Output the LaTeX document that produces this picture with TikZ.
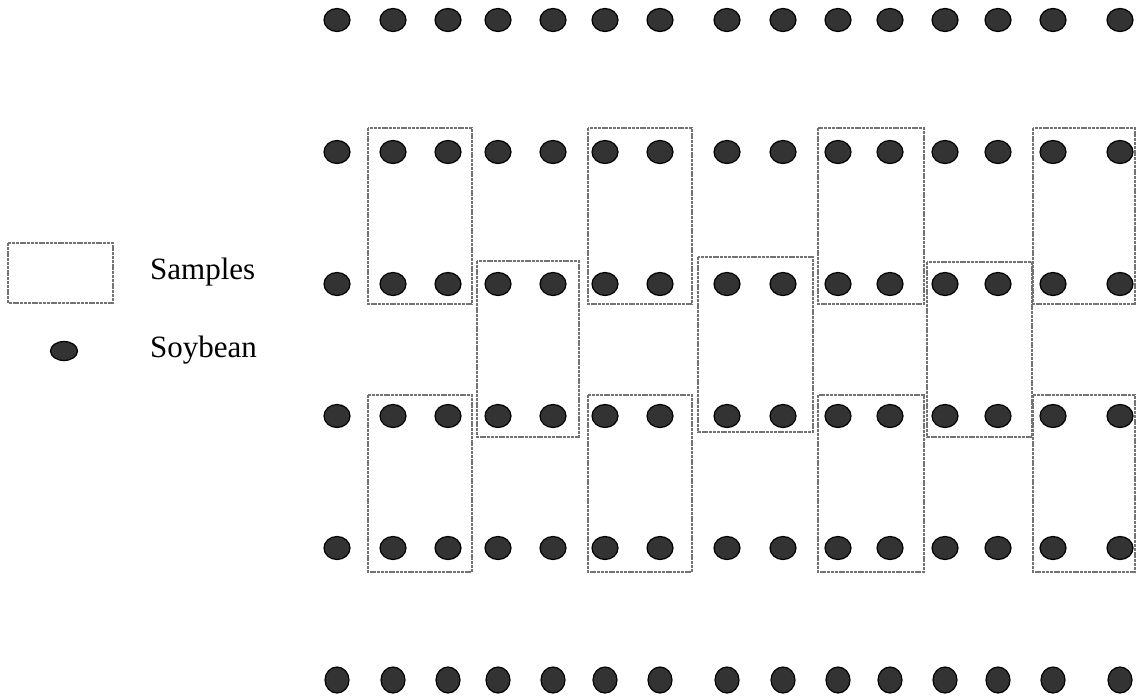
\documentclass[tikz,border=0pt]{standalone}
\usepackage{fontspec}
\setmainfont{Liberation Serif}
\usetikzlibrary{shapes.geometric}
\begin{document}
\begin{tikzpicture}[x=1pt,y=-1pt,
  bean/.style={ellipse, fill=black!80, draw=black, line width=1.2pt,
    minimum width=26pt, minimum height=23pt, inner sep=0pt},
  samplebox/.style={draw=black!55, line width=2.4pt, dash pattern=on 3pt off 0.8pt},
  legtext/.style={anchor=base west, inner sep=0pt, font=\fontsize{31}{36}\selectfont}]
\useasboundingbox (0,0) rectangle (1137,697);
% sample boxes
\foreach \a/\b in {368/472, 588/692, 818/924, 1033/1135}{
  \draw[samplebox] (\a,128) rectangle (\b,304);
  \draw[samplebox] (\a,395) rectangle (\b,572);
}
\draw[samplebox] (477,261) rectangle (579,437);
\draw[samplebox] (698,257) rectangle (813,432);
\draw[samplebox] (927,262) rectangle (1032,437);
% soybean dots
\foreach \y [count=\r] in {20,152,284,416,548}{
  \foreach \x [count=\c] in {337,393,448,498,553,605,660,727,783,838,890,945,998,1053,1120}{
    \node[bean] (d-\r-\c) at (\x,\y) {};
  }
}
\foreach \x [count=\c] in {337,393,448,498,553,605,660,727,783,838,890,945,998,1053,1120}{
  \node[bean, minimum width=24pt, minimum height=26pt] (d-6-\c) at (\x,680) {};
}
% legend
\draw[samplebox] (8,243) rectangle (113,303);
\node[bean, minimum width=27pt, minimum height=19pt] (legdot) at (64,351) {};
\node[legtext] (lsamples) at (150,279) {Samples};
\node[legtext] (lsoy) at (150,357) {Soybean};
\end{tikzpicture}
\end{document}
